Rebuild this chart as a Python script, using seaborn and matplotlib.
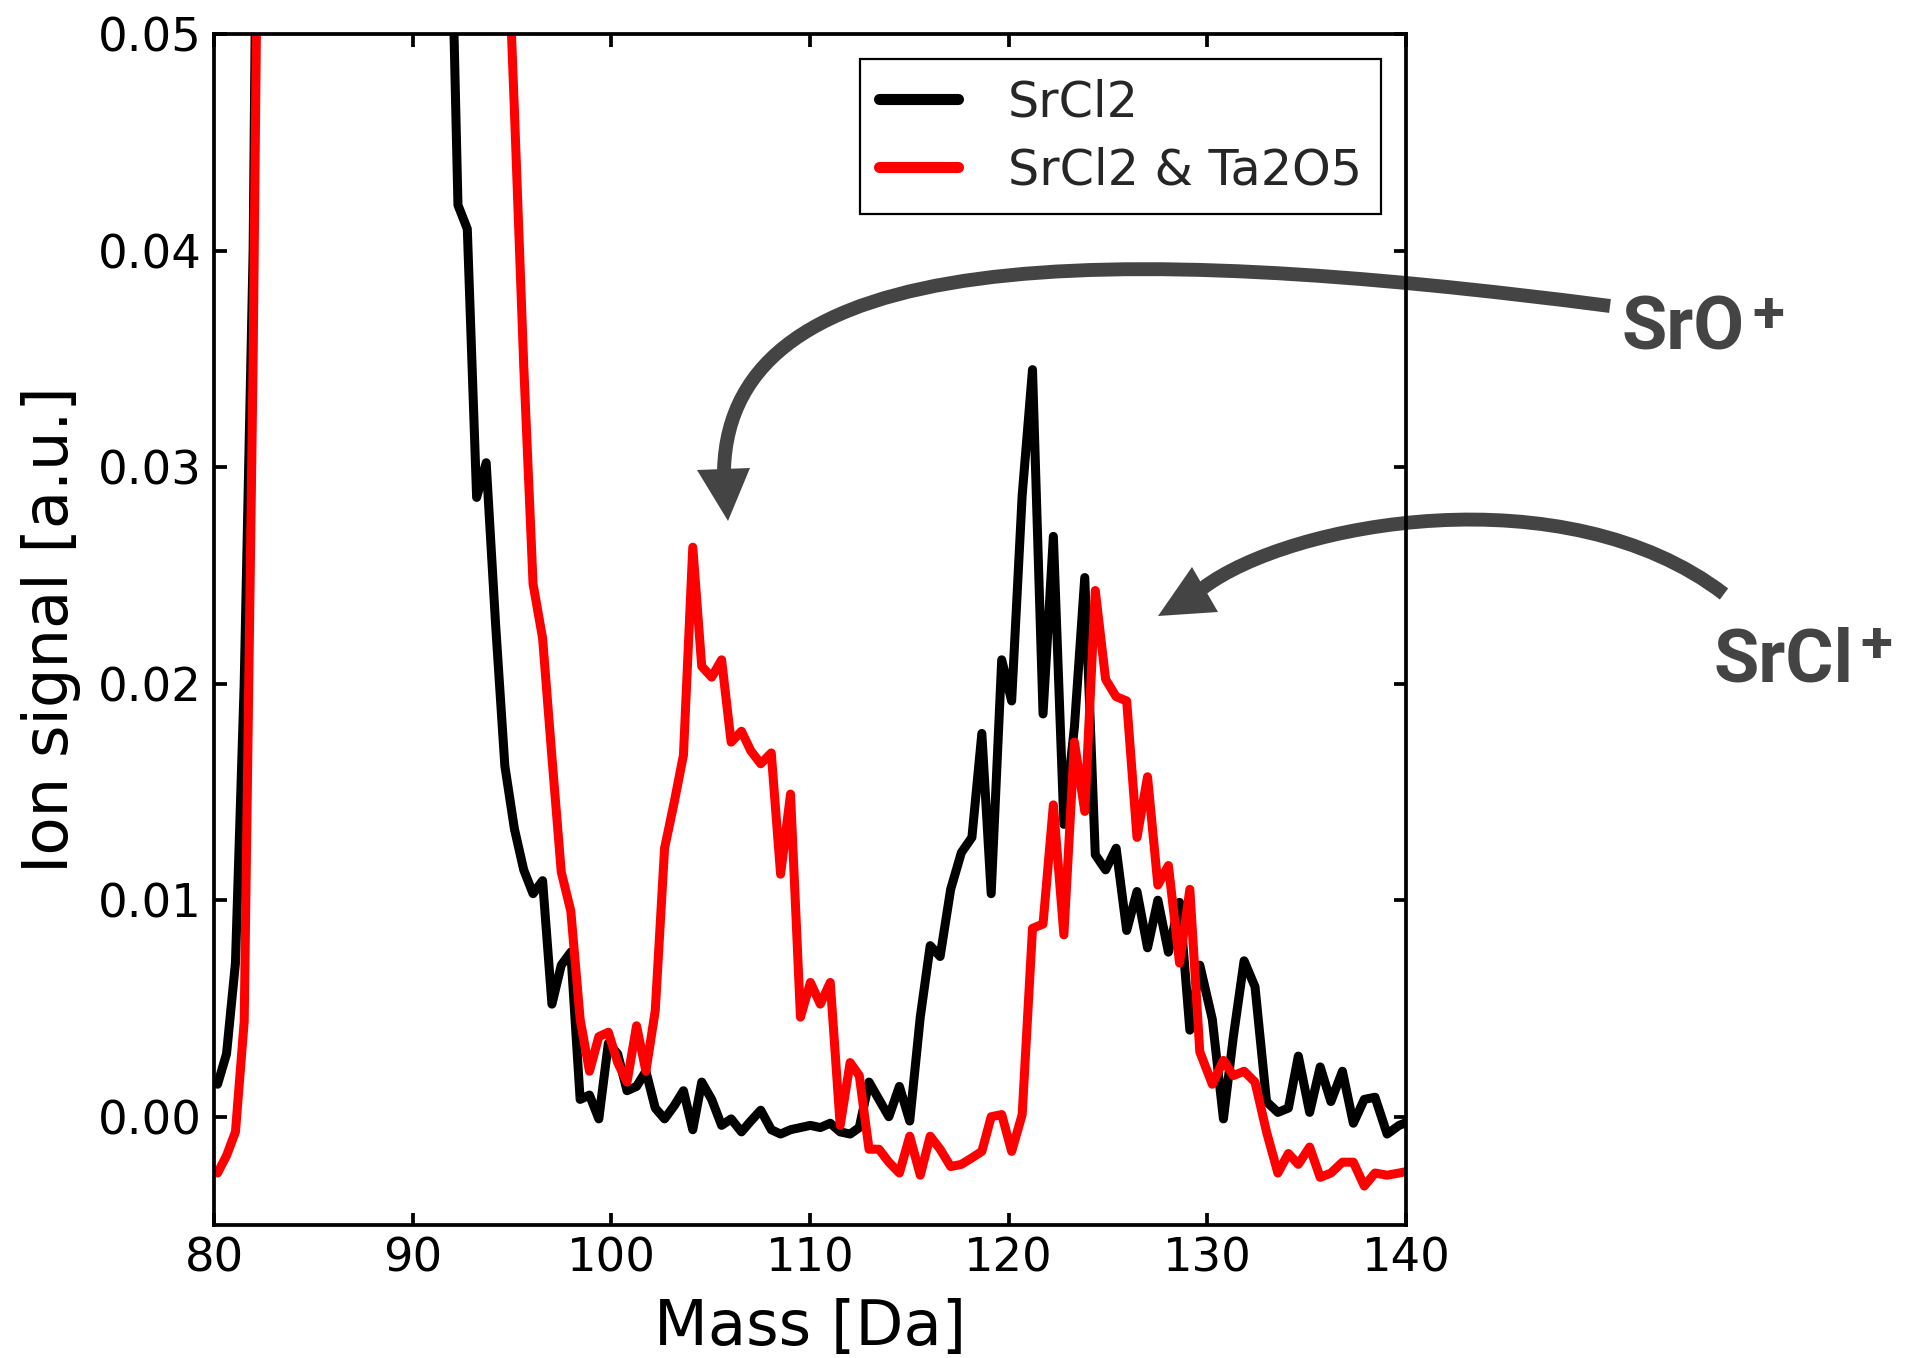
import numpy as np
import pandas as pd
import seaborn as sns
import matplotlib
matplotlib.use('Agg')
import matplotlib.pyplot as plt
from matplotlib.path import Path
from matplotlib.patches import PathPatch, Polygon
from matplotlib.ticker import FormatStrFormatter, MultipleLocator

# Mass axis of the spectrum (Da) - bins get a little wider with mass
mass = [80.18, 80.63, 81.08, 81.52, 81.97, 82.42, 82.87, 83.32, 83.76, 84.21,
        84.66, 85.11, 85.56, 86.00, 86.45, 86.90, 87.35, 87.80, 88.24, 88.69,
        89.14, 89.59, 90.04, 90.48, 90.93, 91.38, 91.83, 92.28,
        92.75, 93.22, 93.70, 94.17, 94.64, 95.12, 95.59, 96.06, 96.54, 97.01,
        97.48, 97.96, 98.43, 98.90, 99.37, 99.85, 100.32, 100.79, 101.27, 101.74,
        102.21, 102.68, 103.16, 103.63, 104.10,
        104.55, 105.05, 105.55, 106.03, 106.55, 107.02, 107.52, 108.05, 108.52, 109.02,
        109.52, 110.02, 110.52, 111.02, 111.52, 112.02, 112.48, 112.97, 113.47, 113.97,
        114.50, 115.02, 115.55, 116.05, 116.55, 117.08, 117.62, 118.15, 118.65, 119.12,
        119.65, 120.15,
        120.68, 121.20, 121.73, 122.25, 122.78, 123.31, 123.83, 124.36, 124.88, 125.41,
        125.94, 126.46, 126.99, 127.51, 128.04,
        128.60, 129.12, 129.62, 130.25, 130.81, 131.31, 131.85, 132.40, 132.98, 133.55,
        134.08, 134.58, 135.15, 135.68, 136.22, 136.80, 137.35, 137.90, 138.44, 139.05,
        139.65, 140.20]

# Ion signal [a.u.] - SrCl2 only (values above 0.05 are off the plot)
srcl2 = [0.0015, 0.0029, 0.0071, 0.020, 0.040, 0.085, 0.14, 0.20, 0.25, 0.30,
         0.28, 0.30, 0.40, 0.55, 0.60, 0.58, 0.62, 0.75, 0.70, 0.50,
         0.35, 0.25, 0.18, 0.13, 0.10, 0.078, 0.060, 0.0421,
         0.0410, 0.0286, 0.0302, 0.0228, 0.0162, 0.0133, 0.0114, 0.0103, 0.0109, 0.0052,
         0.0070, 0.0076, 0.0008, 0.0010, -0.0001, 0.0034, 0.0029, 0.0012, 0.0014, 0.0021,
         0.0004, -0.0001, 0.0005, 0.0012, -0.0006,
         0.0016, 0.0008, -0.0004, -0.0001, -0.0007, -0.0002, 0.0003, -0.0006, -0.0008, -0.0006,
         -0.0005, -0.0004, -0.0005, -0.0003, -0.0007, -0.0008, -0.0005, 0.0016, 0.0008, 0.0000,
         0.0014, -0.0002, 0.0046, 0.0079, 0.0074, 0.0105, 0.0122, 0.0129, 0.0177, 0.0103,
         0.0211, 0.0192,
         0.0287, 0.0345, 0.0186, 0.0268, 0.0135, 0.0180, 0.0249, 0.0121, 0.0114, 0.0124,
         0.0086, 0.0104, 0.0078, 0.0100, 0.0076,
         0.0099, 0.0040, 0.0070, 0.0045, -0.0001, 0.0037, 0.0072, 0.0060, 0.0007, 0.0002,
         0.0004, 0.0028, 0.0002, 0.0023, 0.0007, 0.0021, -0.0003, 0.0008, 0.0009, -0.0008,
         -0.0004, -0.0002]

# Ion signal [a.u.] - SrCl2 & Ta2O5
srcl2_ta2o5 = [-0.0026, -0.0018, -0.0007, 0.0044, 0.035, 0.076, 0.16, 0.30, 0.45, 0.60,
               0.55, 0.52, 0.60, 0.80, 0.90, 0.85, 0.90, 1.00, 0.95, 0.70,
               0.50, 0.38, 0.30, 0.24, 0.20, 0.17, 0.15, 0.13,
               0.115, 0.100, 0.088, 0.076, 0.058, 0.0465, 0.0347, 0.0246, 0.0221, 0.0166,
               0.0113, 0.0095, 0.0045, 0.0021, 0.0037, 0.0039, 0.0025, 0.0016, 0.0042, 0.0021,
               0.0049, 0.0124, 0.0145, 0.0167, 0.0263,
               0.0208, 0.0203, 0.0211, 0.0173, 0.0178, 0.0169, 0.0163, 0.0168, 0.0112, 0.0149,
               0.0046, 0.0062, 0.0052, 0.0062, -0.0004, 0.0025, 0.0019, -0.0015, -0.0015, -0.0021,
               -0.0026, -0.0009, -0.0027, -0.0009, -0.0015, -0.0023, -0.0022, -0.0019, -0.0016, 0.0000,
               0.0001, -0.0016,
               0.0001, 0.0087, 0.0089, 0.0144, 0.0084, 0.0173, 0.0141, 0.0243, 0.0202, 0.0194,
               0.0192, 0.0129, 0.0157, 0.0107, 0.0116,
               0.0071, 0.0105, 0.0030, 0.0015, 0.0026, 0.0019, 0.0021, 0.0016, -0.0007, -0.0026,
               -0.0017, -0.0022, -0.0014, -0.0028, -0.0026, -0.0021, -0.0021, -0.0032, -0.0026, -0.0027,
               -0.0026, -0.0025]

samples = ['SrCl2', 'SrCl2 & Ta2O5']
colors = {'SrCl2': 'black', 'SrCl2 & Ta2O5': 'red'}
x_ticks = [80, 90, 100, 110, 120, 130, 140]

df = pd.DataFrame({
    'mass': mass + mass,
    'signal': srcl2 + srcl2_ta2o5,
    'sample': [samples[0]] * len(mass) + [samples[1]] * len(mass),
})

sns.set_theme(style='ticks')
plt.rcParams['font.family'] = ['DejaVu Sans']

W, H = 1920, 1358
fig = plt.figure(figsize=(W / 100, H / 100), dpi=100)
ax = fig.add_axes([214 / W, 1 - 1225 / H, (1406 - 214) / W, (1225 - 34) / H])

sns.lineplot(data=df, x='mass', y='signal', hue='sample', hue_order=samples,
             palette=colors, linewidth=6.5, estimator=None, legend=False, ax=ax)

ax.set_xlim(80, 140)
ax.set_ylim(-0.005, 0.05)
ax.set_xticks(x_ticks)
ax.yaxis.set_major_locator(MultipleLocator(0.01))
ax.yaxis.set_major_formatter(FormatStrFormatter('%.2f'))
ax.tick_params(which='major', direction='in', top=True, right=True, bottom=True, left=True,
               length=9, width=2.7, color='black', labelcolor='black', labelsize=33.5)
ax.tick_params(axis='x', pad=8)
ax.tick_params(axis='y', pad=9)
for s in ax.spines.values():
    s.set_linewidth(2.7)
    s.set_color('black')

ax.set_xlabel('Mass [Da]', fontsize=45, color='black', labelpad=12)
ax.set_ylabel('Ion signal [a.u.]', fontsize=45, color='black', labelpad=12)

leg = ax.legend(ax.lines[:2], samples, loc='upper right', fontsize=35.5, frameon=True,
                fancybox=False, edgecolor='black', framealpha=1, handlelength=1.6,
                handletextpad=1.0, borderpad=0.4, labelspacing=0.4, borderaxespad=0.5)
leg.get_frame().set_linewidth(1.6)
for ln in leg.get_lines():
    ln.set_linewidth(8)

# curved annotation arrows (pixel positions of the picture)
grey = '#444444'


def fpt(x, y):
    return (x / W, 1 - y / H)


arrows = [
    # shaft control points, arrow head triangle
    ([(1610, 306), (1100, 240), (730, 245), (724, 470)],
     [(697, 470), (750, 468), (728, 521)]),
    ([(1724, 594), (1565, 472), (1290, 522), (1203, 588)],
     [(1192, 567), (1218, 612), (1158, 616)]),
]
for shaft, head in arrows:
    path = Path([fpt(*p) for p in shaft],
                [Path.MOVETO, Path.CURVE4, Path.CURVE4, Path.CURVE4])
    ax.add_artist(PathPatch(path, facecolor='none', edgecolor=grey, lw=10,
                            capstyle='butt', transform=fig.transFigure,
                            clip_on=False, zorder=2.2))
    ax.add_artist(Polygon([fpt(*p) for p in head], closed=True, facecolor=grey,
                          edgecolor='none', transform=fig.transFigure,
                          clip_on=False, zorder=2.2))

label_font = dict(family=['Roboto', 'DejaVu Sans'], weight='bold', color=grey)
fig.text(1622 / W, 1 - 349 / H, 'SrO', fontsize=53, ha='left', va='baseline', **label_font)
fig.text(1752 / W, 1 - 316 / H, '+', fontsize=42, ha='left', va='center', **label_font)
fig.text(1713 / W, 1 - 682 / H, 'SrCl', fontsize=53, ha='left', va='baseline', **label_font)
fig.text(1860 / W, 1 - 647 / H, '+', fontsize=42, ha='left', va='center', **label_font)

fig.savefig('out.png', dpi=100)
plt.close('all')
